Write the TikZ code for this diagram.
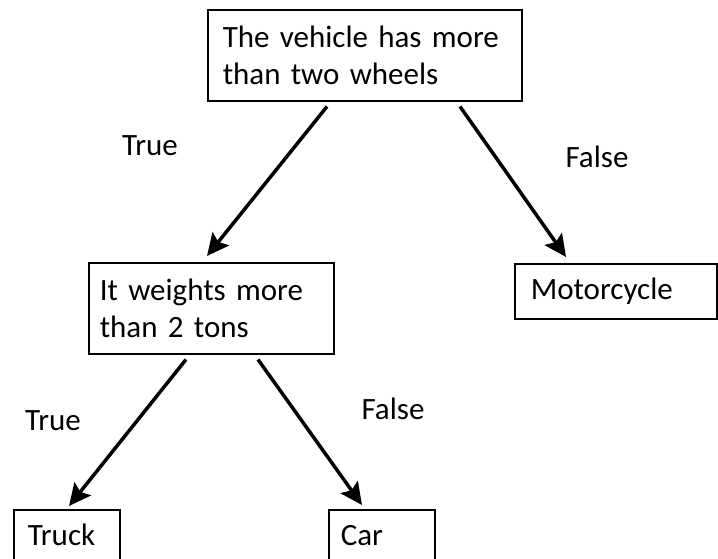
\documentclass[tikz,border=0pt]{standalone}
\usepackage{fontspec}
\setmainfont{Carlito}
\usetikzlibrary{arrows.meta}
\begin{document}
\begin{tikzpicture}[x=1pt,y=-1pt,
 box/.style={draw, line width=1.5pt, align=left, inner ysep=0pt, font=\fontsize{31}{37}\selectfont, anchor=north west},
 leaf/.style={draw, line width=1.5pt, align=left, inner ysep=15pt, text height=21pt, text depth=40pt, font=\fontsize{31}{37}\selectfont, anchor=north west},
 lbl/.style={font=\fontsize{31}{37}\selectfont, inner sep=0pt},
 conn/.style={line width=3.5pt, -{Stealth[length=22pt,width=21pt,inset=4pt]}}]
\clip (0,0) rectangle (718,558);
\node[box, inner xsep=15pt, text width=284pt, minimum height=91pt] (q1) at (207,9) {The vehicle has more\\than two wheels};
\node[box, inner xsep=11pt, text width=223pt, minimum height=91pt] (q2) at (88,262) {It weights more\\than 2 tons};
\node[box, inner xsep=16pt, text width=170pt, minimum height=55pt, yshift=-1pt] (moto) at (514,262) {Motorcycle};
\node[leaf, inner xsep=14pt, text width=78pt] (truck) at (13,509) {Truck};
\node[leaf, inner xsep=12pt, text width=82pt] (car) at (328,509) {Car};
\draw[conn] ([xshift=120pt,yshift=-5pt]q1.south west) -- ([xshift=119pt,yshift=6pt]q2.north west);
\draw[conn] ([xshift=253pt,yshift=-5pt]q1.south west) -- ([xshift=52pt,yshift=6pt]moto.north west);
\draw[conn] ([xshift=98pt,yshift=-5pt]q2.south west) -- ([xshift=56pt,yshift=3pt]truck.north west);
\draw[conn] ([xshift=170pt,yshift=-5pt]q2.south west) -- ([xshift=34pt,yshift=4pt]car.north west);
\node[lbl] (t1) at (150,146) {True};
\node[lbl] (f1) at (597,157) {False};
\node[lbl] (t2) at (53,421) {True};
\node[lbl] (f2) at (393,409) {False};
\end{tikzpicture}
\end{document}
